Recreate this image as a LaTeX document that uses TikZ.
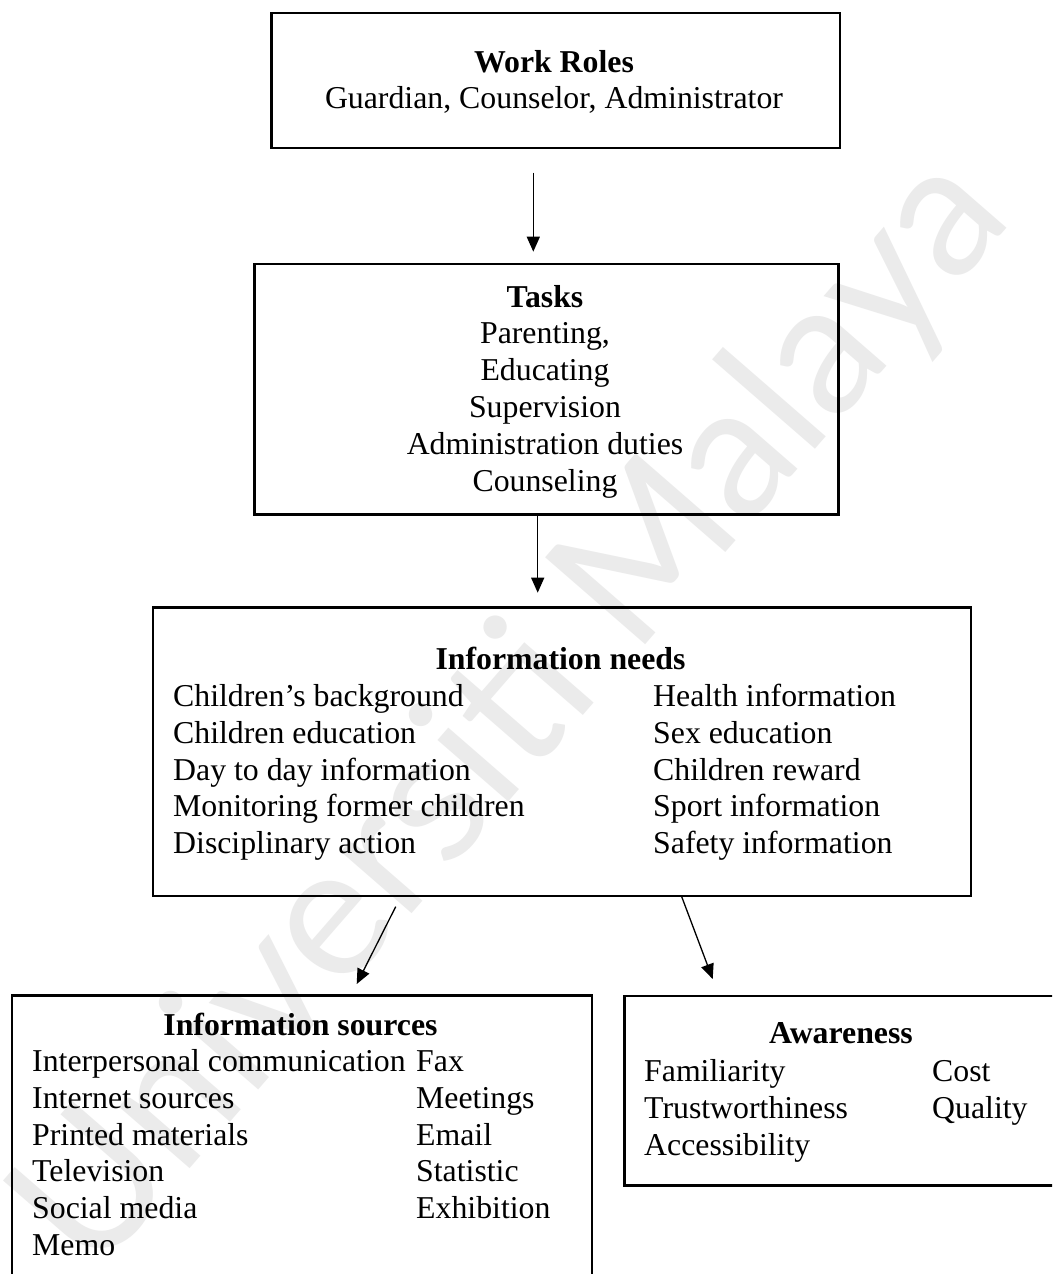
\documentclass[tikz,border=0pt]{standalone}
\usepackage{fontspec}
\setmainfont{Liberation Serif}
\newfontfamily\markfont{Lato}
\usetikzlibrary{arrows.meta}

\begin{document}
\begin{tikzpicture}[x=1pt,y=-1pt,
  box/.style={draw=black, line width=2.6pt, inner sep=0pt, anchor=north west},
  link/.style={draw=black, line width=1.3pt, -{Triangle[length=15pt,width=13pt]}},
  body/.style={inner sep=0pt, font=\fontsize{31.8}{36.7}\selectfont},
  item/.style={body, anchor=base west},
  title/.style={body, anchor=base, font=\fontsize{31.8}{36.7}\selectfont\bfseries},
  centred/.style={body, anchor=base},
  watermark/.style={inner sep=0pt, text=black!8, rotate=49,
    font=\markfont\fontsize{185}{185}\selectfont}
]
\useasboundingbox (0,0) rectangle (1052,1274);
\fill[white] (0,0) rectangle (1052,1274);
\clip (0,0) rectangle (1052,1274);

% background watermark
\node[watermark] (wm) at (515,715) {Universiti Malaya};

% boxes
\node[box, minimum width=568.5pt, minimum height=135pt] (roles) at (270,11.7) {};
\node[box, minimum width=584pt, minimum height=250.3pt] (tasks) at (253,262.7) {};
\node[box, minimum width=818pt, minimum height=288.5pt] (needs) at (151.5,606) {};
\node[box, minimum width=580pt, minimum height=320pt] (sources) at (10.5,994.3) {};
\node[box, minimum width=460pt, minimum height=189.5pt] (aware) at (623.3,994.7) {};

% work roles
\node[title] (rolesT) at (554,72.7) {Work Roles};
\node[centred] (rolesL) at (554,108.6) {Guardian, Counselor, Administrator};

% tasks
\node[title] (tasksT) at (545,307) {Tasks};
\node[centred] (t1) at (545,343.8) {Parenting,};
\node[centred] (t2) at (545,380.6) {Educating};
\node[centred] (t3) at (545,417.4) {Supervision};
\node[centred] (t4) at (545,454.2) {Administration duties};
\node[centred] (t5) at (545,491) {Counseling};

% information needs
\node[title] (needsT) at (560.5,669.3) {Information needs};
\node[item] (n1) at (173,706.7) {Children’s background};
\node[item] (n2) at (173,743.3) {Children education};
\node[item] (n3) at (173,780) {Day to day information};
\node[item] (n4) at (173,816.7) {Monitoring former children};
\node[item] (n5) at (173,853.3) {Disciplinary action};
\node[item] (n6) at (653,706.7) {Health information};
\node[item] (n7) at (653,743.3) {Sex education};
\node[item] (n8) at (653,780) {Children reward};
\node[item] (n9) at (653,816.7) {Sport information};
\node[item] (n10) at (653,853.3) {Safety information};

% information sources
\node[title] (sourcesT) at (300.5,1035) {Information sources};
\node[item] (s1) at (32,1071.7) {Interpersonal communication};
\node[item] (s2) at (32,1108.4) {Internet sources};
\node[item] (s3) at (32,1145) {Printed materials};
\node[item] (s4) at (32,1181.7) {Television};
\node[item] (s5) at (32,1218.4) {Social media};
\node[item] (s6) at (32,1255) {Memo};
\node[item] (s7) at (416,1071.7) {Fax};
\node[item] (s8) at (416,1108.4) {Meetings};
\node[item] (s9) at (416,1145) {Email};
\node[item] (s10) at (416,1181.7) {Statistic};
\node[item] (s11) at (416,1218.4) {Exhibition};

% awareness
\node[title] (awareT) at (841,1043) {Awareness};
\node[item] (a1) at (644,1081.7) {Familiarity};
\node[item] (a2) at (644,1118.4) {Trustworthiness};
\node[item] (a3) at (644,1155) {Accessibility};
\node[item] (a4) at (932,1081.7) {Cost};
\node[item] (a5) at (932,1118.4) {Quality};

% connectors (free-standing, with gaps to the boxes)
\coordinate (c1s) at (533.3,172.7);
\coordinate (c1e) at (533.3,251.7);
\coordinate (c2s) at (537.7,513);
\coordinate (c2e) at (537.7,592.7);
\coordinate (c3s) at (395.7,906.7);
\coordinate (c3e) at (356.7,984);
\coordinate (c4s) at (681.7,896.7);
\coordinate (c4e) at (712.7,979);
\draw[link] (c1s) -- (c1e);
\draw[link] (c2s) -- (c2e);
\draw[link] (c3s) -- (c3e);
\draw[link] (c4s) -- (c4e);
\end{tikzpicture}
\end{document}
